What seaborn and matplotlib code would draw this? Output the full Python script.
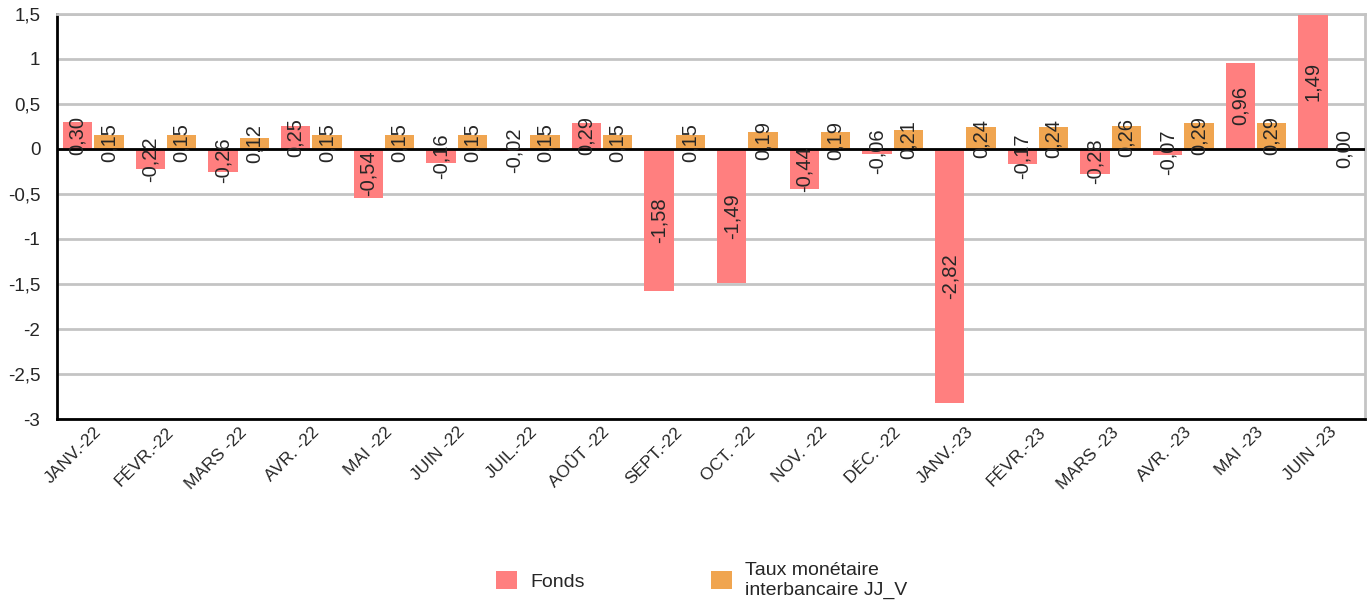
import matplotlib
matplotlib.use("Agg")
import matplotlib.pyplot as plt
import seaborn as sns
import pandas as pd
from matplotlib.patches import Patch

months = ["JANV.-22", "FÉVR.-22", "MARS -22", "AVR. -22", "MAI -22", "JUIN -22",
          "JUIL.-22", "AOÛT -22", "SEPT.-22", "OCT. -22", "NOV. -22", "DÉC. -22",
          "JANV.-23", "FÉVR.-23", "MARS -23", "AVR. -23", "MAI -23", "JUIN -23"]
fonds = [0.30, -0.22, -0.26, 0.25, -0.54, -0.16, -0.02, 0.29, -1.58, -1.49,
         -0.44, -0.06, -2.82, -0.17, -0.28, -0.07, 0.96, 1.49]
taux = [0.15, 0.15, 0.12, 0.15, 0.15, 0.15, 0.15, 0.15, 0.15, 0.19,
        0.19, 0.21, 0.24, 0.24, 0.26, 0.29, 0.29, 0.00]
series_names = ["Fonds", "Taux monétaire\ninterbancaire JJ_V"]
colors = ["#FF7F7F", "#F0A550"]
yticks = [1.5, 1, 0.5, 0, -0.5, -1, -1.5, -2, -2.5, -3]
ytick_labels = ["1,5", "1", "0,5", "0", "-0,5", "-1", "-1,5", "-2", "-2,5", "-3"]

sns.set_style("white")
plt.rcParams["font.family"] = ["Liberation Sans", "DejaVu Sans"]

df = pd.DataFrame({
    "mois": months * 2,
    "valeur": fonds + taux,
    "serie": [series_names[0]] * len(months) + [series_names[1]] * len(months),
})

fig = plt.figure(figsize=(13.67, 6.07), dpi=100)
ax = fig.add_axes([0.0417, 0.3097, 0.9568, 0.6673])

sns.barplot(data=df, x="mois", y="valeur", hue="serie", order=months,
            hue_order=series_names, palette=colors, width=0.86, gap=0.06,
            saturation=1, errorbar=None, legend=False, ax=ax, zorder=3,
            linewidth=0, edgecolor="none")

ax.set_ylim(-3, 1.5)
ax.set_xlim(-0.5, len(months) - 0.5)
ax.set_yticks(yticks)
ax.set_yticklabels(ytick_labels, fontsize=13.5)
ax.set_xlabel("")
ax.set_ylabel("")
ax.grid(axis="y", color="#c4c4c4", linewidth=2, zorder=0)
ax.set_axisbelow(True)
ax.axhline(0, color="black", linewidth=2, zorder=4)

for side in ["top", "right"]:
    ax.spines[side].set_color("#c4c4c4")
    ax.spines[side].set_linewidth(2)
for side in ["left", "bottom"]:
    ax.spines[side].set_color("black")
    ax.spines[side].set_linewidth(2)

ax.tick_params(axis="y", length=0, pad=12)
ax.tick_params(axis="x", length=0, pad=4)
ax.set_xticks(range(len(months)))
ax.set_xticklabels(months, rotation=45, ha="right", rotation_mode="anchor", fontsize=12.5)

def fmt(v):
    return f"{v:.2f}".replace(".", ",")

fonds_labels = [fmt(v) for v in fonds]
taux_labels = [fmt(v) for v in taux]
for cont, labs in zip(ax.containers, [fonds_labels, taux_labels]):
    ax.bar_label(cont, labels=labs, label_type="center", rotation=90,
                 fontsize=14.5, zorder=5)

handles = [Patch(facecolor=c, edgecolor="none") for c in colors]
fig.legend(handles, series_names, loc="center", bbox_to_anchor=(0.5135, 0.044),
           ncol=2, frameon=False, fontsize=14, handlelength=1.05, handleheight=1.05,
           handletextpad=0.7, columnspacing=6.5)

fig.savefig("out.png", dpi=100)
